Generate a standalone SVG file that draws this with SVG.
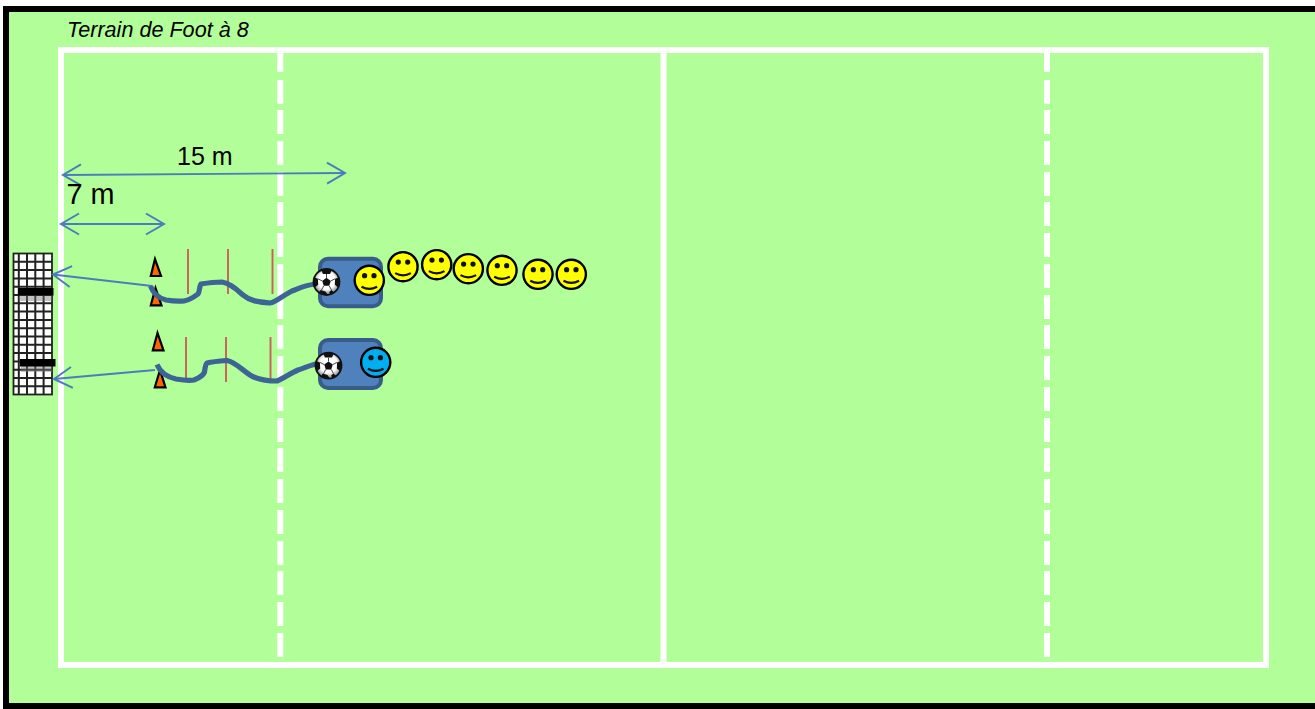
<svg xmlns="http://www.w3.org/2000/svg" width="1315" height="709" viewBox="0 0 1315 709">
<style>
.line{fill:none;stroke:#fff;stroke-width:6}
.arrow{fill:none;stroke:#4a7ebb;stroke-width:1.9;marker-start:url(#open);marker-end:url(#open)}
.goalarrow{fill:none;stroke:#4a7ebb;stroke-width:2.2;marker-end:url(#open)}
.run{fill:none;stroke:#3c6494;stroke-width:5.2;stroke-linecap:butt;stroke-linejoin:round}
.pole{stroke:#c9605a;stroke-width:1.9;fill:none}
.cone{fill:#ff6600;stroke:#000;stroke-width:2.2;stroke-linejoin:miter}
.box{fill:#4f81bd;stroke:#385d8a;stroke-width:4}
.bar{fill:#000}
.barshadow{fill:#777;opacity:.45}
.t{font-family:"Liberation Sans",Arial,sans-serif;fill:#000}
</style>
<defs>
<marker id="open" markerUnits="userSpaceOnUse" markerWidth="24" markerHeight="26" refX="19" refY="12" orient="auto-start-reverse" viewBox="0 0 24 24">
<path d="M1 1.500 L19 12 L1 22.500" fill="none" stroke="#4a7ebb" stroke-width="2"/>
</marker>
<radialGradient id="ballg" cx="50%" cy="45%" r="55%"><stop offset="0.6" stop-color="#fff"/><stop offset="1" stop-color="#777"/></radialGradient>
<g id="smile">
<circle r="14.600" stroke="#000" stroke-width="2.400"/>
<circle cx="-4.700" cy="-4.600" r="2.600" fill="#111"/>
<circle cx="4.700" cy="-4.600" r="2.600" fill="#111"/>
<path d="M-7.800 6.400 Q0 10.800 7.800 6.400" fill="none" stroke="#111" stroke-width="2.200"/>
</g>
<g id="ball">
<circle r="13" fill="url(#ballg)" stroke="#111" stroke-width="1.800"/>
<path d="M0 -4.200 L4.300 -1.100 L2.700 3.800 L-2.700 3.800 L-4.300 -1.100Z" fill="#111"/>
<path d="M-5.200 -12 Q0 -13.800 5.200 -12 L3.600 -8 L-3.600 -8Z" fill="#111"/>
<path d="M12.600 -4.800 Q13.800 1 11.600 5.600 L8.300 2.800 L8.600 -3.200Z" fill="#111"/>
<path d="M-12.600 -4.800 Q-13.800 1 -11.600 5.600 L-8.300 2.800 L-8.600 -3.200Z" fill="#111"/>
<path d="M-7.800 10.600 Q-3 13.400 1.400 12.900 L-1 9.400 L-5.800 8Z M8 10.400 L4.800 8 L2.600 10.200 L4 12.400Z" fill="#111"/>
<path d="M0 -8 V-4.200 M4.300 -1.100 L8.600 -3.200 M-4.300 -1.100 L-8.600 -3.200 M2.700 3.800 L5 8 M-2.700 3.800 L-5 8" stroke="#333" stroke-width=".9" fill="none"/>
</g>
</defs>

<rect width="1315" height="709" fill="#fff"/>
<rect id="ground" x="3" y="6" width="1312" height="703" fill="#000"/>
<rect x="9" y="12" width="1306" height="691" fill="#b2ff99"/>

<g id="field">
<rect class="line" x="61" y="50" width="1205" height="615"/>
<path class="line" d="M663.500 50V665"/>
<path class="line" d="M280.300 50V72M280.300 80V104M280.300 110V134M280.300 141V165M280.300 172V196M280.300 202V226M280.300 233V257M280.300 264V319M280.300 325V349M280.300 356V380M280.300 387V411M280.300 418V442M280.300 448V472M280.300 479V503M280.300 510V534M280.300 541V565M280.300 571V595M280.300 602V626M280.300 633V657"/>
<path class="line" d="M1047 50V72M1047 80V104M1047 110V134M1047 141V165M1047 172V196M1047 202V226M1047 233V257M1047 264V288M1047 295V319M1047 325V349M1047 356V380M1047 387V411M1047 418V442M1047 448V472M1047 479V503M1047 510V534M1047 541V565M1047 571V595M1047 602V626M1047 633V657"/>
</g>
<text class="t" x="67" y="36.700" font-size="21.600" font-style="italic">Terrain de Foot à 8</text>

<g id="goal">
<rect x="13.500" y="253.500" width="38.500" height="141" fill="#fff" stroke="#222" stroke-width="1.800"/>
<path d="M18.800 253V394M27 253V394M35.300 253V394M43.600 253V394M13 261.800H52M13 270.100H52M13 278.400H52M13 286.700H52M13 295H52M13 303.300H52M13 311.600H52M13 319.900H52M13 328.200H52M13 336.500H52M13 344.800H52M13 353.100H52M13 361.400H52M13 369.700H52M13 378H52M13 386.300H52" stroke="#222" stroke-width="2" fill="none"/>
<rect class="barshadow" x="19" y="295" width="33" height="6"/>
<rect class="barshadow" x="21" y="366" width="31" height="6"/>
<rect class="bar" x="18" y="288" width="35.500" height="7.500"/>
<rect class="bar" x="20" y="359" width="35.500" height="7.500"/>
</g>

<g id="cones">
<path class="cone" d="M155 259 L150.800 276 H161 Z"/>
<path class="cone" d="M155.500 288 L150.800 305.300 H161.500 Z"/>
<path class="cone" d="M157.500 333 L152.800 350.300 H163.500 Z"/>
<path class="cone" d="M160 370 L154.800 387.300 H165.500 Z"/>
</g>

<g id="poles">
<path class="pole" d="M188 249V294M228 249V294M272.500 249V294M186 337V382M226 337V382M270.500 337V382"/>
</g>

<g id="box-top"><rect class="box" x="320" y="258.700" width="61" height="47.500" rx="8"/></g>
<g id="box-bottom"><rect class="box" x="320" y="340" width="61" height="48" rx="8"/></g>

<g id="connectors">
<path class="arrow" d="M63 175 L345 173"/>
<path class="arrow" d="M61 224 L164 224"/>
<path class="goalarrow" d="M152 286 L53 274.500"/>
<path class="goalarrow" d="M155 370 L54 379"/>
<path class="run" d="M150.500 286 C153 293 158 298 166 300 C172 301 178 301.500 184 301 C190 300 194 297 198 294 C200 291 199 287 201 284 C207 283 215 282 222 282 C230 283 236 289 243 295 C250 301 258 302 270 303 C276 302 282 296 292 291 C300 288 305 285 316 284"/>
<path class="run" d="M157 364.500 C160 372 167 377 176 379 C182 380 188 381 194 380 C199 378 203 376 204.500 372 C205 369 205 365 207 363 C213 361.500 220 361 227 360.500 C235 362 241 369 250 375 C258 380 268 381 277 381 C284 378 291 373 298 370 C305 368 311 364 322 363"/>
</g>

<g id="ball-top"><use href="#ball" x="326.500" y="282"/></g>
<g id="ball-bottom"><use href="#ball" x="328.500" y="365.600"/></g>

<g id="players" fill="#ffff00">
<use id="p1" href="#smile" x="369.300" y="280.300"/>
<use id="p2" href="#smile" x="375.700" y="362.300" fill="#00aeef"/>
<use id="p3" href="#smile" x="403" y="266.700"/>
<use id="p4" href="#smile" x="436.700" y="264.700"/>
<use id="p5" href="#smile" x="468.300" y="268.700"/>
<use id="p6" href="#smile" x="502" y="270.300"/>
<use id="p7" href="#smile" x="538" y="274.300"/>
<use id="p8" href="#smile" x="571.300" y="274.300"/>
</g>

<text class="t" x="177" y="165" font-size="25">15 m</text>
<text class="t" x="66.500" y="204" font-size="28.800">7 m</text>
</svg>
